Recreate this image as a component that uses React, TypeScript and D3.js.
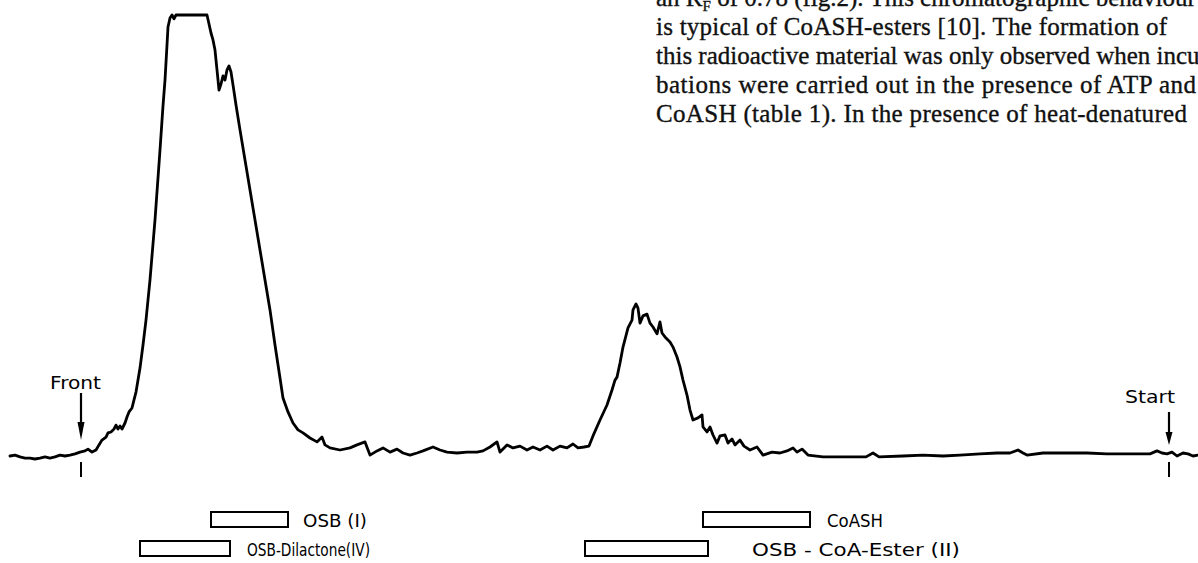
import { useEffect, useRef } from 'react'
import * as d3 from 'd3'

const W = 1198
const H = 563

// radio scan along the strip: distance from left edge (mm), counts (rel.)
const distanceMm = [
  2.0, 3.0, 4.0, 5.0, 6.0, 7.0, 8.0, 9.0, 10.0, 11.0, 12.0, 13.0, 14.0, 15.0, 16.0, 17.0, 17.6, 18.4, 19.2, 19.8,
  20.4, 21.2, 21.6, 22.2, 22.8, 23.2, 23.6, 24.0, 24.4, 25.0, 25.4, 25.8, 26.4, 26.8, 27.2, 27.6, 28.0, 28.6, 29.2, 30.0,
  31.0, 32.0, 32.6, 33.0, 33.4, 33.6, 34.0, 34.4, 34.8, 35.2, 36.0, 40.0, 41.4, 41.8, 42.2, 42.6, 43.0, 43.4, 43.8, 44.2,
  44.6, 45.0, 45.4, 45.8, 46.2, 46.6, 47.2, 48.0, 49.0, 50.0, 51.0, 52.0, 53.0, 54.0, 55.0, 56.0, 56.6, 57.6, 58.6, 59.6,
  60.6, 62.0, 63.4, 64.4, 65.0, 66.0, 68.0, 70.0, 71.4, 73.0, 74.0, 75.4, 76.6, 78.0, 79.4, 80.6, 82.0, 83.4, 84.6, 86.6,
  88.0, 89.4, 91.4, 93.4, 95.4, 96.6, 98.0, 99.4, 100.0, 101.4, 102.6, 104.0, 105.4, 106.6, 108.0, 109.4, 110.6, 112.0, 113.4, 114.6,
  115.6, 116.8, 117.8, 118.6, 120.0, 121.4, 122.4, 123.0, 123.4, 124.0, 124.6, 125.6, 126.4, 126.6, 127.2, 127.6, 128.0, 128.6, 129.4, 130.0,
  130.6, 131.4, 132.0, 132.4, 133.0, 134.0, 134.6, 135.4, 136.0, 136.6, 137.4, 138.0, 138.6, 139.6, 140.4, 140.6, 141.4, 142.0, 142.6, 143.4,
  144.0, 145.0, 145.6, 146.4, 147.0, 148.0, 148.8, 150.0, 151.4, 152.6, 154.4, 156.0, 157.4, 158.6, 159.4, 160.4, 161.6, 164.6, 170.0, 173.2,
  174.6, 175.8, 180.6, 184.6, 188.6, 192.0, 196.0, 199.4, 202.0, 203.6, 204.6, 205.4, 208.6, 213.4, 217.4, 221.4, 226.6, 230.0, 231.4, 232.4,
  233.4, 234.4, 235.4, 236.6, 237.6, 238.6, 239.6,
]
const counts = [
  3.0, 3.3, 2.7, 2.3, 2.3, 2.0, 2.3, 2.7, 2.3, 2.7, 3.3, 3.0, 3.3, 3.7, 4.3, 4.7, 5.3, 4.3, 5.0, 6.7,
  8.3, 9.3, 10.7, 11.0, 12.0, 13.3, 12.0, 13.0, 12.0, 14.0, 16.0, 17.7, 19.0, 21.7, 24.3, 28.3, 32.3, 40.0, 48.3, 61.7,
  81.7, 105.0, 119.7, 128.3, 140.0, 146.0, 149.0, 150.0, 148.7, 150.0, 150.0, 150.0, 150.0, 147.0, 144.0, 141.7, 138.3, 131.7, 125.0, 127.0,
  129.7, 128.3, 131.7, 133.0, 131.0, 126.7, 120.0, 111.7, 101.7, 91.7, 81.7, 71.7, 61.7, 51.7, 40.0, 29.0, 22.3, 17.7, 14.0, 11.7,
  10.7, 9.0, 7.7, 9.3, 6.7, 5.7, 5.0, 5.7, 6.7, 7.7, 3.3, 4.7, 5.7, 4.3, 5.3, 4.0, 3.3, 4.0, 4.7, 6.0,
  5.0, 4.3, 4.0, 4.3, 4.3, 4.7, 6.0, 7.7, 4.3, 6.7, 5.7, 6.3, 5.0, 6.0, 5.0, 6.3, 5.0, 6.3, 5.7, 7.0,
  5.7, 6.0, 6.3, 9.7, 15.0, 20.0, 25.0, 28.3, 29.3, 34.0, 39.3, 45.7, 48.3, 51.7, 53.7, 52.3, 47.3, 49.7, 50.3, 47.3,
  46.0, 43.7, 47.7, 44.0, 42.7, 41.0, 39.3, 36.0, 32.7, 28.3, 23.3, 18.3, 15.0, 15.7, 16.7, 12.7, 11.0, 12.7, 10.0, 7.3,
  9.7, 10.0, 7.3, 8.7, 6.7, 8.3, 6.3, 5.0, 6.0, 3.3, 4.3, 4.0, 4.7, 5.7, 4.3, 5.3, 3.3, 2.7, 2.7, 2.7,
  4.0, 2.7, 3.0, 3.3, 3.0, 3.3, 3.7, 4.0, 4.0, 5.0, 4.0, 3.3, 4.0, 4.0, 4.0, 3.7, 3.7, 3.7, 4.7, 4.0,
  3.7, 4.3, 3.0, 4.0, 3.7, 3.0, 3.3,
]

// reference spots of the standards (mm along the strip)
const refLabels = ['OSB (I)', 'OSB-Dilactone(IV)', 'CoASH', 'OSB - CoA-Ester (II)']
const refFrom = [42.2, 28.0, 140.6, 117.0]
const refTo = [57.6, 46.0, 162.0, 141.6]
const refRow = [0, 1, 0, 1]
const refLabelWidth = [64, 123, 56, 208]
const refLabelGap = [15, 17, 17, 44]

const frontMm = 16.2
const startMm = 233.8

const bodyLines = [
  ' of 0.78 (fig.2). This chromatographic behaviour',
  'is typical of CoASH-esters [10]. The formation of',
  'this radioactive material was only observed when incu',
  'bations were carried out in the presence of ATP and',
  'CoASH (table 1). In the presence of heat-denatured',
]
// justified widths of the full lines (0 = leave as set)
const bodyLineWidth = [0, 511, 0, 540, 531]

export default function App(): JSX.Element {
  const ref = useRef<HTMLDivElement>(null)

  useEffect(() => {
    const container = ref.current
    if (!container) return

    const x = d3.scaleLinear().domain([0, 240]).range([0, 1200])
    const y = d3.scaleLinear().domain([0, 150]).range([465, 15])

    const svg = d3.create('svg')
      .attr('width', W)
      .attr('height', H)
      .attr('viewBox', [0, 0, W, H])
      .style('display', 'block')
      .style('background', '#fff')

    // text of the page above the figure
    const body = svg.append('g')
      .attr('font-family', '"Liberation Serif", "Times New Roman", serif')
      .attr('font-size', 25)
      .attr('fill', '#111')
      .attr('stroke', '#111')
      .attr('stroke-width', 0.35)
    bodyLines.forEach((line, i) => {
      const t = body.append('text').attr('x', 656).attr('y', 6 + i * 29)
      if (bodyLineWidth[i]) t.attr('textLength', bodyLineWidth[i]).attr('lengthAdjust', 'spacing')
      if (i === 0) {
        t.append('tspan').text('an R')
        t.append('tspan').attr('font-size', 15).attr('dy', 5).text('F')
        t.append('tspan').attr('dy', -5).text(line)
      } else {
        t.text(line)
      }
    })

    // scan trace
    const pts = distanceMm.map((d, i) => [d, counts[i]] as [number, number])
    const line = d3.line<[number, number]>()
      .x(d => x(d[0]))
      .y(d => y(d[1]))
    svg.append('path')
      .attr('d', line(pts))
      .attr('fill', 'none')
      .attr('stroke', '#000')
      .attr('stroke-width', 2.8)
      .attr('stroke-linejoin', 'round')
      .attr('stroke-linecap', 'round')

    const lab = svg.append('g')
      .attr('font-family', '"DejaVu Sans", sans-serif')
      .attr('fill', '#000')

    // Front / Start markers
    const marker = (mm: number, label: string, labelX: number, labelW: number, baseY: number, top: number, tip: number, head: number, tickTop: number) => {
      const cx = x(mm)
      lab.append('text').attr('x', labelX).attr('y', baseY).attr('font-size', 17)
        .attr('textLength', labelW).attr('lengthAdjust', 'spacingAndGlyphs').text(label)
      lab.append('line').attr('x1', cx).attr('x2', cx).attr('y1', top).attr('y2', tip - head + 2)
        .attr('stroke', '#000').attr('stroke-width', 2.2)
      lab.append('path')
        .attr('d', `M${cx - 3.5},${tip - head}L${cx + 3.5},${tip - head}L${cx},${tip}Z`)
        .attr('fill', '#000')
      lab.append('line').attr('x1', cx).attr('x2', cx).attr('y1', tickTop).attr('y2', 477)
        .attr('stroke', '#000').attr('stroke-width', 2)
    }
    marker(frontMm, 'Front', 50, 51, 389, 393, 440, 18, 462)
    marker(startMm, 'Start', 1125, 50, 403, 412, 445, 13, 462)

    // reference boxes
    const rowTop = [512, 541]
    refLabels.forEach((name, i) => {
      const x0 = x(refFrom[i]), x1 = x(refTo[i])
      const top = rowTop[refRow[i]]
      lab.append('rect')
        .attr('x', x0).attr('y', top).attr('width', x1 - x0).attr('height', 15)
        .attr('fill', '#fff').attr('stroke', '#000').attr('stroke-width', 2)
      lab.append('text')
        .attr('x', x1 + refLabelGap[i]).attr('y', top + 15)
        .attr('font-size', 17)
        .attr('textLength', refLabelWidth[i]).attr('lengthAdjust', 'spacingAndGlyphs')
        .text(name)
    })

    container.innerHTML = ''
    const node = svg.node()
    if (node) container.append(node)
  }, [])

  return <div ref={ref} style={{ position: 'absolute', left: 0, top: 0, width: W, height: H }} />
}
